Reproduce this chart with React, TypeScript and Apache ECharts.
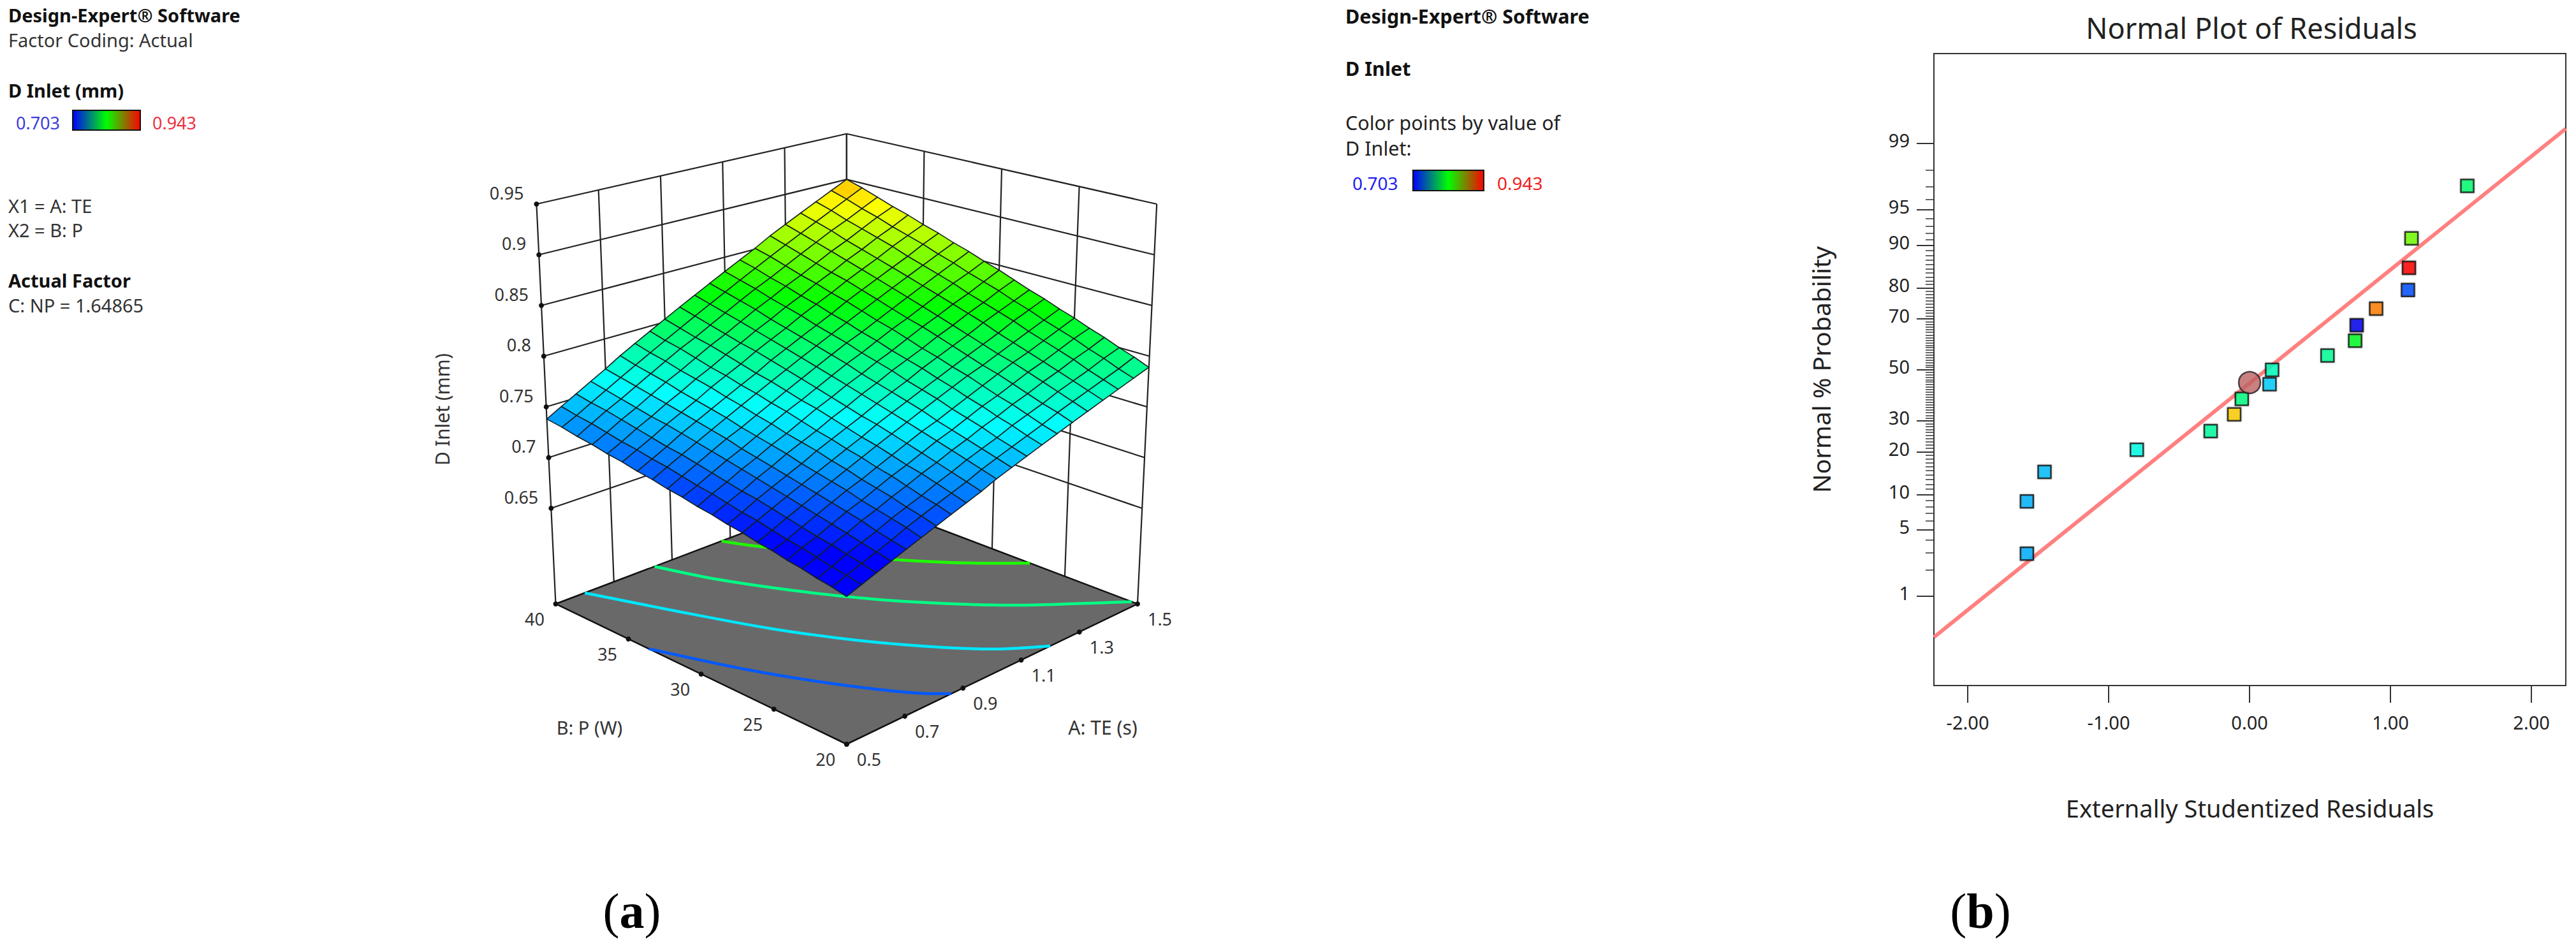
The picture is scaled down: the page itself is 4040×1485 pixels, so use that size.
import React, { useEffect, useRef } from "react";
import * as echarts from "echarts";

// ---------- Panel (a): response surface data ----------
const aTicks = [0.5, 0.7, 0.9, 1.1, 1.3, 1.5];
const bTicks = [20, 25, 30, 35, 40];
const zTicks = [0.65, 0.7, 0.75, 0.8, 0.85, 0.9, 0.95];
const zTickLabels = ["0.65", "0.7", "0.75", "0.8", "0.85", "0.9", "0.95"];
const aTickLabels = ["0.5", "0.7", "0.9", "1.1", "1.3", "1.5"];
const bTickLabels = ["20", "25", "30", "35", "40"];

// D Inlet read from the surface: rows P = 20..40 W (step 1), columns TE = 0.5..1.5 s (step 0.05)
const surfaceRows = [
  [.688,.693,.698,.703,.708,.713,.718,.723,.728,.733,.739,.744,.749,.754,.759,.764,.769,.774,.779,.784,.789],
  [.691,.696,.701,.706,.711,.717,.722,.727,.732,.737,.743,.748,.753,.758,.763,.769,.774,.779,.784,.789,.795],
  [.693,.698,.704,.709,.714,.720,.725,.730,.736,.741,.747,.752,.757,.763,.768,.773,.779,.784,.789,.795,.800],
  [.696,.701,.707,.712,.718,.723,.729,.734,.740,.745,.751,.756,.762,.767,.773,.778,.784,.789,.795,.800,.806],
  [.698,.704,.709,.715,.721,.726,.732,.738,.743,.749,.755,.760,.766,.772,.777,.783,.789,.794,.800,.806,.811],
  [.701,.706,.712,.718,.724,.730,.735,.741,.747,.753,.759,.764,.770,.776,.782,.788,.794,.799,.805,.811,.817],
  [.703,.709,.715,.721,.727,.733,.739,.745,.751,.757,.763,.769,.775,.781,.787,.792,.798,.804,.810,.816,.822],
  [.706,.712,.718,.724,.730,.736,.742,.748,.754,.761,.767,.773,.779,.785,.791,.797,.803,.809,.816,.822,.828],
  [.708,.714,.721,.727,.733,.739,.746,.752,.758,.764,.771,.777,.783,.790,.796,.802,.808,.815,.821,.827,.833],
  [.711,.717,.723,.730,.736,.743,.749,.755,.762,.768,.775,.781,.788,.794,.800,.807,.813,.820,.826,.833,.839],
  [.713,.720,.726,.733,.739,.746,.752,.759,.766,.772,.779,.785,.792,.798,.805,.812,.818,.825,.831,.838,.845],
  [.716,.722,.729,.736,.742,.749,.756,.763,.769,.776,.783,.790,.796,.803,.810,.816,.823,.830,.837,.843,.850],
  [.718,.725,.732,.739,.746,.752,.759,.766,.773,.780,.787,.794,.801,.807,.814,.821,.828,.835,.842,.849,.856],
  [.721,.728,.735,.742,.749,.756,.763,.770,.777,.784,.791,.798,.805,.812,.819,.826,.833,.840,.847,.854,.861],
  [.723,.730,.737,.745,.752,.759,.766,.773,.780,.788,.795,.802,.809,.816,.824,.831,.838,.845,.852,.860,.867],
  [.726,.733,.740,.748,.755,.762,.770,.777,.784,.792,.799,.806,.814,.821,.828,.836,.843,.850,.858,.865,.872],
  [.728,.735,.743,.750,.758,.765,.773,.780,.788,.795,.803,.810,.818,.825,.833,.840,.848,.855,.863,.870,.878],
  [.731,.738,.746,.753,.761,.769,.776,.784,.792,.799,.807,.815,.822,.830,.837,.845,.853,.860,.868,.876,.883],
  [.733,.741,.749,.756,.764,.772,.780,.788,.795,.803,.811,.819,.827,.834,.842,.850,.858,.866,.873,.881,.889],
  [.736,.743,.751,.759,.767,.775,.783,.791,.799,.807,.815,.823,.831,.839,.847,.855,.863,.871,.879,.887,.895],
  [.738,.746,.754,.762,.770,.779,.787,.795,.803,.811,.819,.827,.835,.843,.851,.860,.868,.876,.884,.892,.900],
];

// Floor contours as [TE, P] points
const contourBlue = [[0.5, 33.6], [0.6, 28.8], [0.7, 24.8], [0.8, 21.4], [0.86, 20]];
const contourCyan = [[0.6, 40], [0.7, 35.6], [0.8, 31.2], [0.9, 27.5], [1.0, 24.4], [1.1, 21.8], [1.2, 20]];
const contourTeal = [[0.84, 40], [0.9, 37], [1.0, 33.2], [1.1, 29.9], [1.2, 27.1], [1.3, 24.6], [1.4, 22.5], [1.5, 20.4]];
const contourGreen = [[1.07, 40], [1.1, 38.8], [1.2, 35.4], [1.3, 32.4], [1.4, 29.7], [1.5, 27.4]];
const contourLevels = [0.724, 0.757, 0.792, 0.83];

// ---------- Panel (b): normal plot data ----------
const residuals = [-1.58, -1.58, -1.455, -0.8, -0.276, -0.109, -0.055, 0.142, 0.16, 0.553, 0.749, 0.76, 0.898, 1.124, 1.131, 1.149, 1.545];
const probabilities = [2.94, 8.82, 14.71, 20.59, 26.47, 32.35, 38.24, 44.12, 50, 55.88, 61.76, 67.65, 73.53, 79.41, 85.29, 91.18, 97.06];
const pointColors = ["#00B0FF", "#00B4FF", "#00BFFF", "#00FFE8", "#00FFA0", "#FFD000", "#00FF80", "#00CFFF", "#00FFC0", "#00FF99", "#00FF20", "#0000F0", "#FF8000", "#0050FF", "#FF0000", "#70FF00", "#00FF70"];
const centerPoint = [0.0, 44.8];
const fitLine = [[-2.24, 0.3], [2.244, 99.34]];
const yMajorTicks = [1, 5, 10, 20, 30, 50, 70, 80, 90, 95, 99];
const xTicks = [-2, -1, 0, 1, 2];

// ---------- helpers ----------
const FONT = '"Noto Sans"';
const Z_FLOOR = 0.5557;
const Z_TOP = 0.95;
const BOX = {
  floor: { f: [1327.8, 1167], r: [1784, 947], l: [871.5, 947], b: [1327.8, 774] },
  top: { f: [1327.8, 477], r: [1814.2, 320], l: [841.4, 320], b: [1327.8, 209.8] },
};
function bil(q: any, u: number, v: number, k: number) {
  return q.f[k] * (1 - u) * (1 - v) + q.r[k] * u * (1 - v) + q.l[k] * (1 - u) * v + q.b[k] * u * v;
}
function project(a: number, b: number, z: number): number[] {
  const u = a - 0.5;
  const v = (b - 20) / 20;
  const t = (z - Z_FLOOR) / (Z_TOP - Z_FLOOR);
  return [0, 1].map((k) => bil(BOX.floor, u, v, k) * (1 - t) + bil(BOX.top, u, v, k) * t);
}
// Design-Expert colour ramp over 0.703..0.943
function ramp(z: number): string {
  const s = Math.max(0, Math.min(1, (z - 0.703) / 0.24)) * 4;
  const stops = [[0, 0, 255], [0, 255, 255], [0, 255, 0], [255, 255, 0], [255, 0, 0]];
  const i = Math.min(3, Math.floor(s));
  const f = s - i;
  const c = stops[i].map((v, k) => Math.round(v + (stops[i + 1][k] - v) * f));
  return `rgb(${c[0]},${c[1]},${c[2]})`;
}
// Inverse normal CDF (Acklam), used as the probability-paper axis scale
function probit(pct: number): number {
  const p = pct / 100;
  const a = [-39.69683028665376, 220.9460984245205, -275.9285104469687, 138.357751867269, -30.66479806614716, 2.506628277459239];
  const b = [-54.47609879822406, 161.5858368580409, -155.6989798598866, 66.80131188771972, -13.28068155288572];
  const c = [-0.007784894002430293, -0.3223964580411365, -2.400758277161838, -2.549732539343734, 4.374664141464968, 2.938163982698783];
  const d = [0.007784695709041462, 0.3224671290700398, 2.445134137142996, 3.754408661907416];
  const tail = (q: number) =>
    (((((c[0] * q + c[1]) * q + c[2]) * q + c[3]) * q + c[4]) * q + c[5]) /
    ((((d[0] * q + d[1]) * q + d[2]) * q + d[3]) * q + 1);
  if (p < 0.02425) return tail(Math.sqrt(-2 * Math.log(p)));
  if (p > 1 - 0.02425) return -tail(Math.sqrt(-2 * Math.log(1 - p)));
  const q = p - 0.5;
  const r = q * q;
  return (((((a[0] * r + a[1]) * r + a[2]) * r + a[3]) * r + a[4]) * r + a[5]) * q /
    (((((b[0] * r + b[1]) * r + b[2]) * r + b[3]) * r + b[4]) * r + 1);
}
const yMinorTicks = Array.from({ length: 99 }, (_, i) => i + 1);

function txt(text: string, x: number, y: number, size: number, fill: string, bold = false, align = "left", rotation = 0) {
  return {
    type: "text", x, y, rotation, silent: true,
    style: {
      text, fill, textAlign: align, textVerticalAlign: "middle", align, verticalAlign: "middle",
      font: `${bold ? "bold " : ""}${size}px ${FONT}`,
    },
  };
}
function legendBar(x: number, y: number, w: number, h: number) {
  return {
    type: "rect", shape: { x, y, width: w, height: h }, silent: true,
    style: {
      stroke: "#111", lineWidth: 2,
      fill: new echarts.graphic.LinearGradient(0, 0, 1, 0, [
        { offset: 0, color: "#0000FF" }, { offset: 0.5, color: "#00FF00" }, { offset: 1, color: "#FF0000" },
      ]),
    },
  };
}
function caption(letter: string, x: number) {
  return {
    type: "text", x, y: 1467, silent: true,
    style: {
      text: `{r|(}{b|${letter}}{r|)}`, fill: "#000", textAlign: "center", align: "center", verticalAlign: "bottom", textVerticalAlign: "bottom",
      rich: {
        r: { font: '78px "Liberation Serif"', fill: "#000" },
        b: { font: 'bold 78px "Liberation Serif"', fill: "#000" },
      },
    },
  };
}

function buildOption(): any {
  const cells: number[][] = [];
  for (let j = 0; j < 20; j++) for (let i = 0; i < 20; i++) cells.push([i, j]);
  const aAt = (i: number) => 0.5 + i * 0.05;
  const bAt = (j: number) => 20 + j;

  const wallSegs: number[][][] = [];
  zTicks.forEach((z) => {
    wallSegs.push([[0.5, 40, z], [1.5, 40, z]]);
    wallSegs.push([[1.5, 40, z], [1.5, 20, z]]);
  });
  aTicks.forEach((a) => wallSegs.push([[a, 40, Z_FLOOR], [a, 40, Z_TOP]]));
  bTicks.forEach((b) => wallSegs.push([[1.5, b, Z_FLOOR], [1.5, b, Z_TOP]]));

  const contours = [contourBlue, contourCyan, contourTeal, contourGreen];
  const contourColors = contourLevels.map(ramp);

  const dotList: number[][] = [
    ...zTicks.map((z) => [0.5, 40, z]),
    ...aTicks.map((a) => [a, 20, Z_FLOOR]),
    ...bTicks.map((b) => [0.5, b, Z_FLOOR]),
  ];
  const labelList: any[] = [
    ...zTicks.map((z, i) => ({ p: project(0.5, 40, z), dx: -20, dy: -18, t: zTickLabels[i], align: "right" })),
    ...aTicks.map((a, i) => ({ p: project(a, 20, Z_FLOOR), dx: 35, dy: 23, t: aTickLabels[i], align: "center" })),
    ...bTicks.map((b, i) => ({ p: project(0.5, b, Z_FLOOR), dx: -33, dy: 23, t: bTickLabels[i], align: "center" })),
  ];

  const none = { type: "custom", coordinateSystem: "none", silent: true, animation: false };

  return {
    animation: false,
    backgroundColor: "#fff",
    title: {
      text: "Normal Plot of Residuals", left: 3526, top: 16, textAlign: "center",
      textStyle: { fontFamily: FONT, fontSize: 45, fontWeight: "normal", color: "#222" },
    },
    grid: { left: 3033, top: 84, width: 991, height: 991, show: true, borderColor: "#333", borderWidth: 2, backgroundColor: "transparent", containLabel: false },
    xAxis: {
      type: "value", min: -2.24, max: 2.244,
      name: "Externally Studentized Residuals", nameLocation: "middle", nameGap: 173,
      nameTextStyle: { fontFamily: FONT, fontSize: 38, color: "#222" },
      axisLine: { onZero: false, lineStyle: { color: "#333", width: 2 } },
      axisTick: { customValues: xTicks, length: 27, lineStyle: { color: "#333", width: 2 } },
      axisLabel: { customValues: xTicks, margin: 43, fontFamily: FONT, fontSize: 29, color: "#222", formatter: (v: number) => v.toFixed(2) },
      splitLine: { show: false },
    },
    yAxis: [
      {
        type: "value", min: -3.244, max: 3.25, position: "left",
        name: "Normal % Probability", nameLocation: "middle", nameGap: 158, nameRotate: 90,
        nameTextStyle: { fontFamily: FONT, fontSize: 39, color: "#222" },
        axisLine: { onZero: false, lineStyle: { color: "#333", width: 2 } },
        axisTick: { customValues: yMajorTicks.map(probit), length: 27, lineStyle: { color: "#333", width: 2 } },
        axisLabel: {
          customValues: yMajorTicks.map(probit), margin: 38, fontFamily: FONT, fontSize: 29, color: "#222",
          verticalAlign: "bottom", lineHeight: 10,
          formatter: (v: number) => {
            let best = yMajorTicks[0];
            yMajorTicks.forEach((t) => { if (Math.abs(probit(t) - v) < Math.abs(probit(best) - v)) best = t; });
            return String(best);
          },
        },
        splitLine: { show: false },
      },
      {
        type: "value", min: -3.244, max: 3.25, position: "left",
        axisLine: { show: false, onZero: false },
        axisTick: { customValues: yMinorTicks.map(probit), length: 13, lineStyle: { color: "#333", width: 1.5 } },
        axisLabel: { show: false },
        splitLine: { show: false },
      },
    ],
    graphic: [
      txt("Design-Expert® Software", 13, 23, 29, "#111", true),
      txt("Factor Coding: Actual", 13, 62, 29, "#333"),
      txt("D Inlet (mm)", 13, 141, 29, "#111", true),
      txt("0.703", 25, 192, 27, "#3C3CDC"),
      legendBar(114, 173, 106, 31),
      txt("0.943", 239, 192, 27, "#EE3040"),
      txt("X1 = A: TE", 13, 322, 29, "#333"),
      txt("X2 = B: P", 13, 360, 29, "#333"),
      txt("Actual Factor", 13, 439, 29, "#111", true),
      txt("C: NP = 1.64865", 13, 478, 29, "#333"),

      txt("D Inlet (mm)", 693, 642, 30, "#333", false, "center", Math.PI / 2),
      txt("B: P (W)", 924.5, 1140, 29, "#333", false, "center"),
      txt("A: TE (s)", 1729.5, 1140, 30, "#333", false, "center"),

      txt("Design-Expert® Software", 2110, 25, 30.5, "#111", true),
      txt("D Inlet", 2110, 107, 30.5, "#111", true),
      txt("Color points by value of", 2110, 192, 30.5, "#222"),
      txt("D Inlet:", 2110, 232, 30.5, "#222"),
      txt("0.703", 2121, 287, 28, "#2020F0"),
      legendBar(2216, 267, 111, 32),
      txt("0.943", 2348, 287, 28, "#F02020"),

      caption("a", 991),
      caption("b", 3106),
    ],
    series: [
      // walls
      {
        ...none, data: wallSegs.map((_, i) => i), z: 1,
        renderItem: (p: any) => {
          const s = wallSegs[p.dataIndex];
          const a = project(s[0][0], s[0][1], s[0][2]);
          const b = project(s[1][0], s[1][1], s[1][2]);
          return { type: "line", shape: { x1: a[0], y1: a[1], x2: b[0], y2: b[1] }, style: { stroke: "#222", lineWidth: 2.2 } };
        },
      },
      // floor
      {
        ...none, data: [0], z: 2,
        renderItem: () => ({
          type: "polygon",
          shape: { points: [project(0.5, 20, Z_FLOOR), project(1.5, 20, Z_FLOOR), project(1.5, 40, Z_FLOOR), project(0.5, 40, Z_FLOOR)] },
          style: { fill: "#696969", stroke: "#111", lineWidth: 2.5 },
        }),
      },
      // floor contours
      {
        ...none, data: contours.map((_, i) => i), z: 3,
        renderItem: (p: any) => ({
          type: "polyline",
          shape: { points: contours[p.dataIndex].map((q) => project(q[0], q[1], Z_FLOOR)), smooth: 0.3 },
          style: { fill: "none", stroke: contourColors[p.dataIndex], lineWidth: 4.5 },
        }),
      },
      // tick dots
      {
        ...none, data: dotList.map((_, i) => i), z: 4,
        renderItem: (p: any) => {
          const d = dotList[p.dataIndex];
          const c = project(d[0], d[1], d[2]);
          return { type: "circle", shape: { cx: c[0], cy: c[1], r: 4 }, style: { fill: "#111" } };
        },
      },
      // response surface
      {
        ...none, data: cells, z: 5,
        renderItem: (p: any) => {
          const [i, j] = cells[p.dataIndex];
          const z00 = surfaceRows[j][i], z10 = surfaceRows[j][i + 1], z01 = surfaceRows[j + 1][i], z11 = surfaceRows[j + 1][i + 1];
          return {
            type: "polygon",
            shape: { points: [project(aAt(i), bAt(j), z00), project(aAt(i + 1), bAt(j), z10), project(aAt(i + 1), bAt(j + 1), z11), project(aAt(i), bAt(j + 1), z01)] },
            style: { fill: ramp((z00 + z10 + z01 + z11) / 4), stroke: "#141f1f", lineWidth: 1.6 },
          };
        },
      },
      // 3D axis labels
      {
        ...none, data: labelList.map((_, i) => i), z: 6,
        renderItem: (p: any) => {
          const l = labelList[p.dataIndex];
          return {
            type: "text", x: l.p[0] + l.dx, y: l.p[1] + l.dy,
            style: { text: l.t, fill: "#333", font: `27px ${FONT}`, textAlign: l.align, align: l.align, textVerticalAlign: "middle", verticalAlign: "middle" },
          };
        },
      },
      // normal plot
      {
        type: "line", xAxisIndex: 0, yAxisIndex: 0, silent: true, showSymbol: false, z: 2,
        data: fitLine.map((d) => [d[0], probit(d[1])]),
        lineStyle: { color: "#FF8080", width: 6 },
      },
      {
        type: "scatter", xAxisIndex: 0, yAxisIndex: 0, silent: true, symbol: "rect", symbolSize: 20, z: 3,
        data: residuals.map((r, i) => ({
          value: [r, probit(probabilities[i])],
          itemStyle: { color: pointColors[i], borderColor: "#111", borderWidth: 2.5, shadowBlur: 3, shadowColor: "rgba(0,0,0,0.4)" },
        })),
      },
      {
        type: "scatter", xAxisIndex: 0, yAxisIndex: 0, silent: true, symbol: "circle", symbolSize: 34, z: 4,
        data: [[centerPoint[0], probit(centerPoint[1])]],
        itemStyle: { color: "#BC6060", borderColor: "#222", borderWidth: 2.5 },
      },
    ],
  };
}

export default function App() {
  const ref = useRef<HTMLDivElement>(null);
  useEffect(() => {
    document.body.style.margin = "0";
    document.body.style.background = "#fff";
    const chart = echarts.init(ref.current!, undefined, { renderer: "svg" });
    chart.setOption(buildOption());
    return () => chart.dispose();
  }, []);
  return <div ref={ref} style={{ width: 4040, height: 1485 }} />;
}
